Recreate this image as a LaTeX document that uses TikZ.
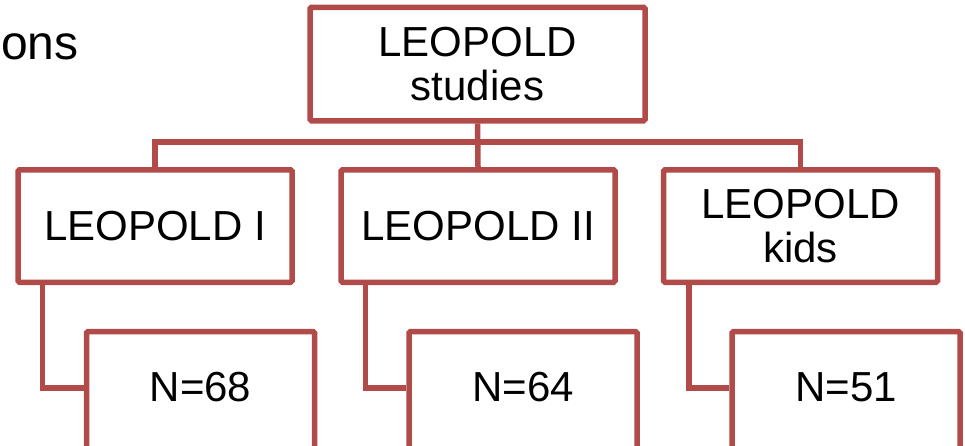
\documentclass[tikz,border=0pt]{standalone}
\usepackage{fontspec}
\setmainfont{Liberation Sans}
\usetikzlibrary{positioning,calc}
\definecolor{boxred}{RGB}{176,75,73}

\begin{document}
\begin{tikzpicture}[x=1pt,y=-1pt,
    box/.style={draw=boxred, line width=5.5pt, rounded corners=1.5pt, fill=white,
      align=center, inner sep=0pt, font=\fontsize{42}{44}\selectfont},
    midbox/.style={box, minimum width=274pt, minimum height=112.5pt},
    nbox/.style={box, minimum width=228pt, minimum height=121pt, text depth=10pt},
    link/.style={draw=boxred, line width=5.5pt}]
        \useasboundingbox (0,0) rectangle (965,445);
        \clip (0,0) rectangle (965,445);

        % Cut-off heading
        \node[anchor=base west, inner sep=0pt, font=\fontsize{48}{52}\selectfont] (head) at (1,59) {ons};

        % Top box
        \node[box, minimum width=335pt, minimum height=113.5pt] (studies) at (477.5,64) {LEOPOLD\\studies};

        % Studies
        \node[midbox] (leoI) at (155,226) {LEOPOLD I};
        \node[midbox] (leoII) at (478,226) {LEOPOLD II};
        \node[midbox] (kids) at (800.5,226) {LEOPOLD\\kids};

        % Sample sizes
        \node[nbox] (nI) at (200.5,392) {N=68};
        \node[nbox] (nII) at (523,392) {N=64};
        \node[nbox] (nkids) at (846,392) {N=51};

        % Tree lines
        \draw[link] (studies.south) -- (leoII.north);
        \draw[link] (leoI.north) -- ++(0,-25) -| (kids.north);

        % Elbows
        \draw[link] ($(leoI.south west)+(27,0)$) |- (nI.north west |- 0,388);
        \draw[link] ($(leoII.south west)+(27,0)$) |- (nII.north west |- 0,388);
        \draw[link] ($(kids.south west)+(28,0)$) |- (nkids.north west |- 0,388);
\end{tikzpicture}
\end{document}
